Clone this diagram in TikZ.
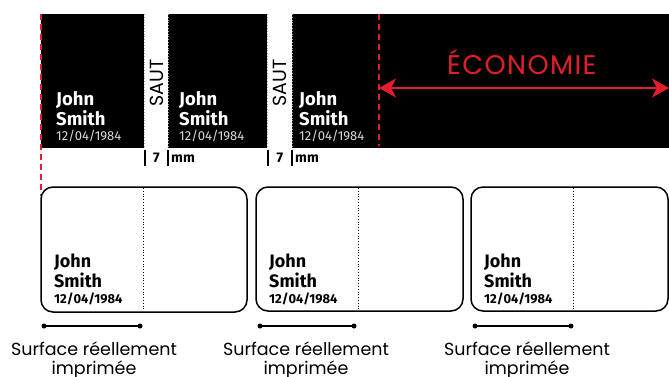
\documentclass[tikz,border=0pt]{standalone}
\usepackage{fontspec}
\setmainfont{Fira Sans}
\newfontfamily\pop{Poppins}
\newfontfamily\popw[LetterSpace=5]{Poppins}
\usetikzlibrary{arrows.meta}
\definecolor{ered}{RGB}{226,30,44}
\begin{document}
\begin{tikzpicture}[x=1pt,y=-1pt,
  blk/.style={fill=black},
  sep/.style={draw=gray!70, dotted, line width=0.8pt},
  reddash/.style={draw=ered, line width=2pt, dash pattern=on 6pt off 4pt},
  nameW/.style={anchor=base west, inner sep=0pt, text=white, font=\fontsize{18.5}{18.5}\selectfont\bfseries},
  dateW/.style={anchor=base west, inner sep=0pt, text=white!85!black, font=\fontsize{13}{13}\selectfont},
  nameB/.style={anchor=base west, inner sep=0pt, font=\fontsize{18}{18}\selectfont\bfseries},
  dateB/.style={anchor=base west, inner sep=0pt, font=\fontsize{13}{13}\selectfont\bfseries},
  saut/.style={rotate=90, inner sep=0pt, font=\pop\fontsize{19}{19}\selectfont},
  small/.style={inner sep=0pt, font=\fontsize{14}{14}\selectfont\bfseries},
  card/.style={draw, line width=1.5pt, rounded corners=12pt},
  cut/.style={draw, dotted, line width=0.8pt},
  dim/.style={line width=1.5pt},
  lbl/.style={inner sep=0pt, font=\pop\fontsize{17.5}{17.5}\selectfont}
]
\useasboundingbox (0,0) rectangle (669,376);
% black blocks
\fill[blk] (41,14) rectangle (144,148);
\fill[blk] (168,14) rectangle (267,148);
\fill[blk] (292,14) rectangle (669,148);
\draw[sep] (144,14) -- (144,148);
\draw[sep] (168,14) -- (168,148);
\draw[sep] (267,14) -- (267,148);
\draw[sep] (292,14) -- (292,148);
% SAUT
\node[saut] (s1) at (156.5,83) {SAUT};
\node[saut] (s2) at (279.5,83) {SAUT};
% labels in black blocks
\foreach \x/\n in {56/a,179/b,299/c}{
  \node[nameW] (j\n) at (\x,105) {John};
  \node[nameW] (sm\n) at (\x,125) {Smith};
  \node[dateW] (d\n) at (\x,140) {12/04/1984};
}
% 7 mm marks
\foreach \a/\b/\n in {145/168/a,268/292/b}{
  \draw[line width=1.2pt] (\a,150) -- (\a,166);
  \draw[line width=1.2pt] (\b,150) -- (\b,166);
  \node[small] (seven\n) at ({(\a+\b)/2},158) {7};
  \node[small, anchor=west] (mm\n) at (\b+3,159) {mm};
}
% red dashed lines
\draw[reddash] (41,14) -- (41,196);
\draw[reddash] (379,14) -- (379,146);
% arrow
\coordinate (al) at (379,88);
\coordinate (ar) at (669,88);
\draw[ered, line width=1.6pt, {Stealth[length=17pt,width=19pt,inset=5pt]}-{Stealth[length=17pt,width=19pt,inset=5pt]}] (al) -- (ar);
\node[inner sep=0pt, anchor=base west, text=ered, font=\popw\fontsize{27}{27}\selectfont] (eco) at (447,74.5) {ÉCONOMIE};
% cards
\draw[card] (41,187) rectangle (247,312);
\draw[card] (256,187) rectangle (463,311);
\draw[card] (471,187) rectangle (668,311);
\draw[cut] (143,188) -- (143,311);
\draw[cut] (358,188) -- (358,310);
\draw[cut] (573,188) -- (573,310);
\foreach \x/\n in {54/a,269/b,484/c}{
  \node[nameB] (bj\n) at (\x,267) {John};
  \node[nameB] (bs\n) at (\x,287) {Smith};
  \node[dateB] (bd\n) at (\x,303) {12/04/1984};
}
% dimension lines
\foreach \a/\b/\c/\n in {44/140/94/a,260/354/306/b,475/571/527/c}{
  \coordinate (l\n) at (\a,326);
  \coordinate (r\n) at (\b,326);
  \draw[dim] (l\n) -- (r\n);
  \fill (l\n) circle (2.5pt);
  \fill (r\n) circle (2.5pt);
  \node[lbl, anchor=base] (t\n) at (\c,355) {Surface réellement};
  \node[lbl, anchor=base] (u\n) at (\c,374) {imprimée};
}
\end{tikzpicture}
\end{document}
